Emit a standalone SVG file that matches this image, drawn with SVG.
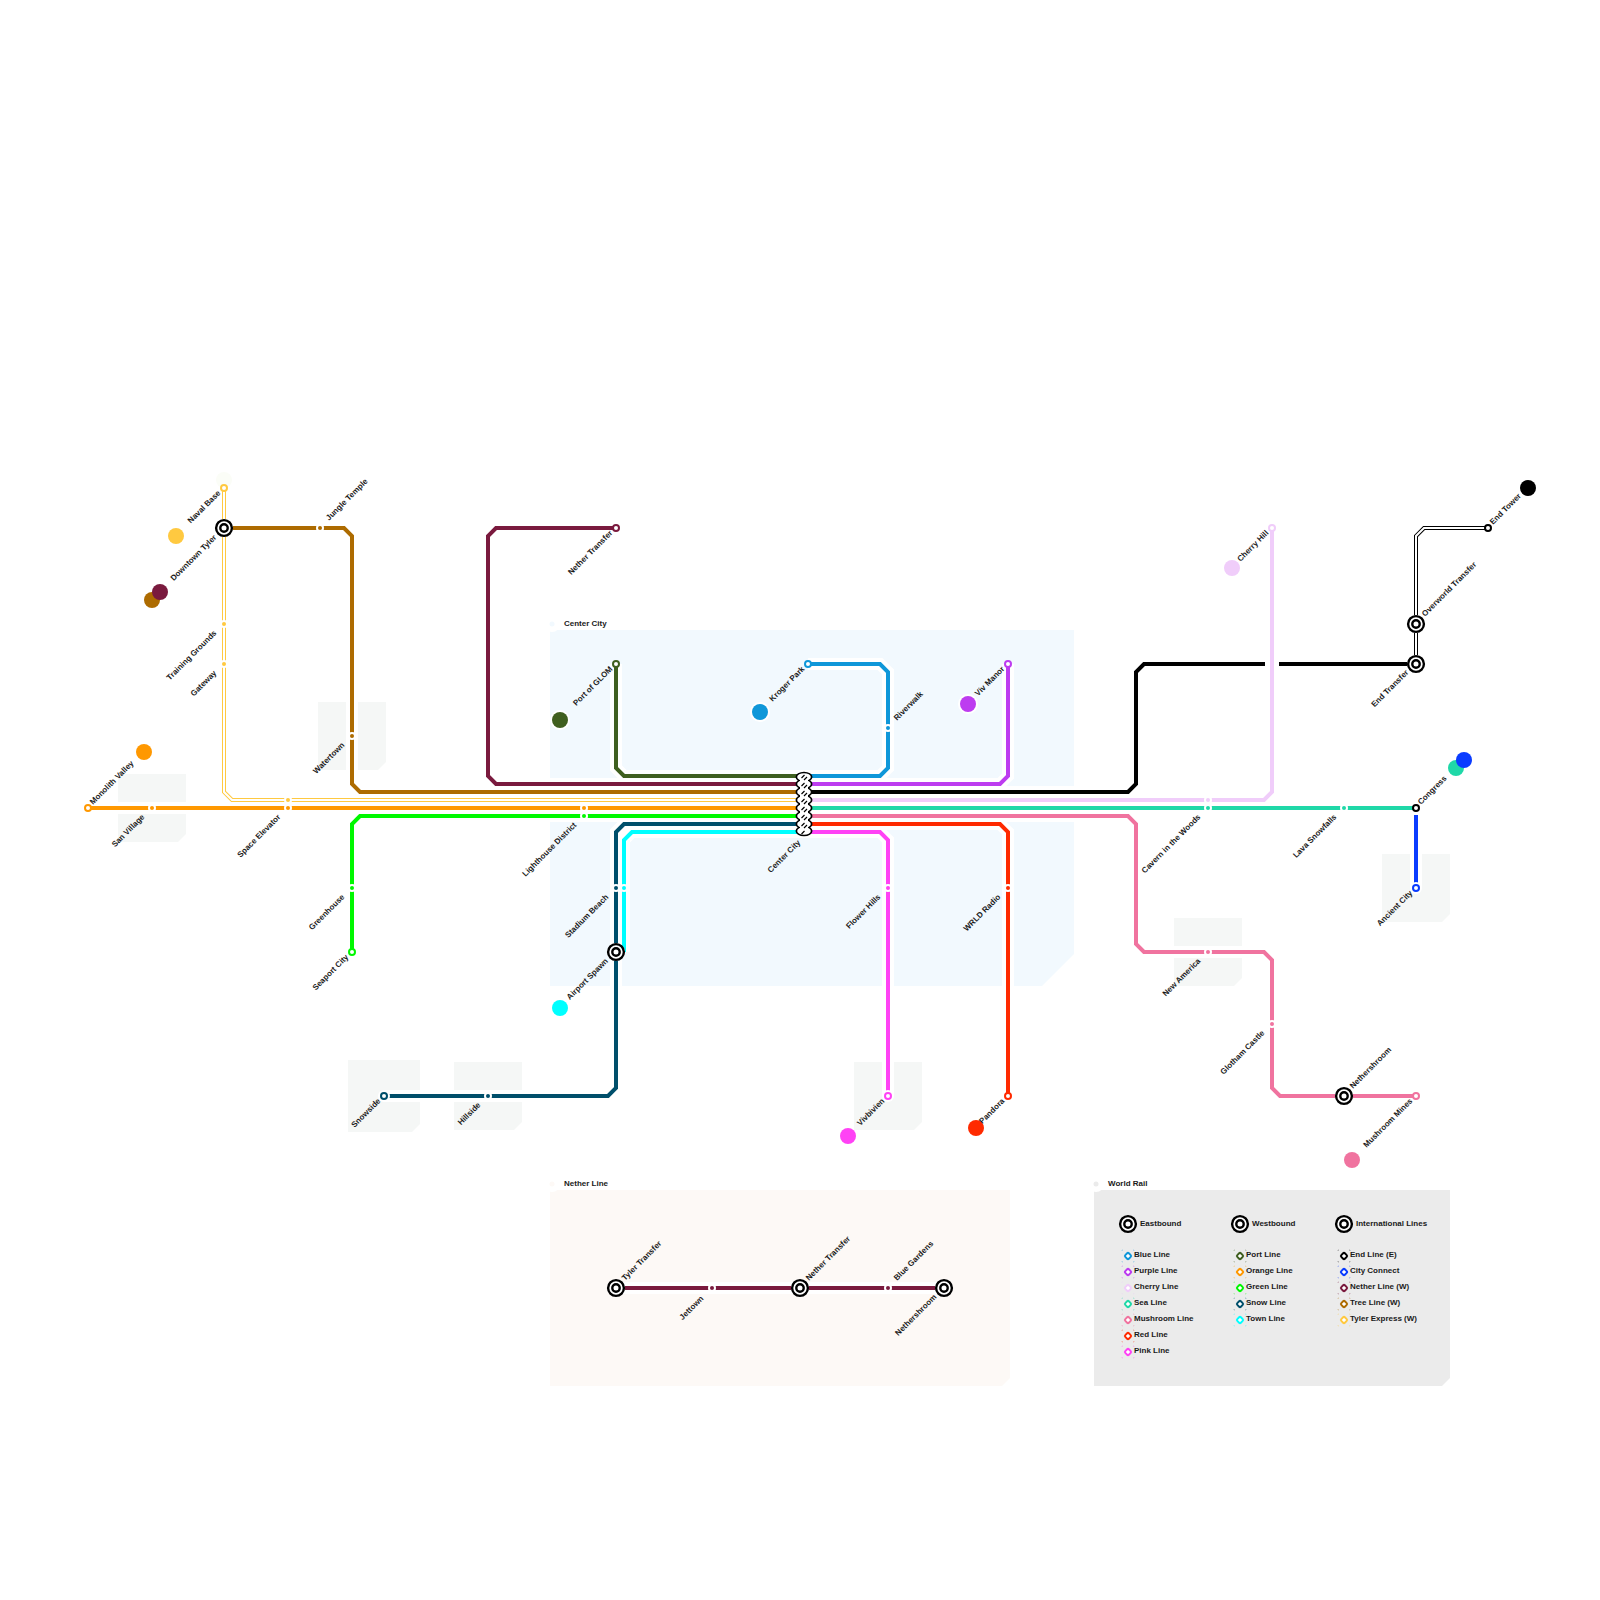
<svg xmlns="http://www.w3.org/2000/svg" xmlns:xlink="http://www.w3.org/1999/xlink" width="1600" height="1600" viewBox="0 0 1600 1600">
<defs>
<style>
text{font-family:"Liberation Sans",Arial,sans-serif;font-size:8px;font-weight:bold;fill:#1a1a1a}
.e{text-anchor:end}
path{fill:none}
.ln path{stroke-width:4;stroke-linejoin:miter}
.case path{stroke:#fff;stroke-width:12}
.inner{stroke:#fff!important;stroke-width:2!important}
.s{fill:#fff}
.ring{fill:#fff;stroke-width:2}
.io{fill:#fff;stroke:#000;stroke-width:2.4}
.ih{fill:#fff}
.d{fill:#fff;stroke-width:2}
.dots{fill:none;stroke-width:.7;stroke-dasharray:1.4 10.6;stroke-dashoffset:.7;opacity:.55}
</style>
<g id="ix"><circle r="9" class="ih"/><circle r="7.9" class="io"/><circle r="3.7" class="io"/></g>
</defs>
<rect width="1600" height="1600" fill="#fff"/>

<g id="panels">
<path d="M550 630H1074V954L1042 986H550Z" style="fill:#f2f9fe"/>
<path d="M550 1190H1010V1378L1002 1386H550Z" style="fill:#fdf9f6"/>
<path d="M1094 1190H1450V1378L1442 1386H1094Z" style="fill:#ebebeb"/>
<circle cx="552" cy="624" r="8" fill="#fff"/><circle cx="552" cy="624" r="2.5" fill="#f2f9fe"/>
<circle cx="552" cy="1184" r="8" fill="#fff"/><circle cx="552" cy="1184" r="2.5" fill="#fdf9f6"/>
<circle cx="1096" cy="1184" r="8" fill="#fff"/><circle cx="1096" cy="1184" r="2.5" fill="#ebebeb"/>
<text x="564" y="626">Center City</text>
<text x="564" y="1186">Nether Line</text>
<text x="1108" y="1186">World Rail</text>
</g>
<g id="tiles">
<path style="fill:#f5f7f6" d="M118 774H186V834L178 842H118Z"/>
<path style="fill:#f5f7f6" d="M318 702H386V762L378 770H318Z"/>
<path style="fill:#f5f7f6" d="M1382 854H1450V914L1442 922H1382Z"/>
<path style="fill:#f5f7f6" d="M1174 918H1242V978L1234 986H1174Z"/>
<path style="fill:#f5f7f6" d="M348 1060H420V1124L412 1132H348Z"/>
<path style="fill:#f5f7f6" d="M454 1062H522V1122L514 1130H454Z"/>
<path style="fill:#f5f7f6" d="M854 1062H922V1122L914 1130H854Z"/>
</g>

<g id="connectors">
<g class="case">
<path d="M224 488V792L232 800H804"/>
<path d="M224 528H344L352 536V784L360 792H804"/>
<path d="M88 808H804"/>
<path d="M352 952V824L360 816H804"/>
<path d="M616 528H496L488 536V776L496 784H804"/>
<path d="M616 664V768L624 776H804"/>
<path d="M384 1096H608L616 1088V832L624 824H804"/>
<path d="M624 952V840L632 832H804"/>
<path d="M808 664H880L888 672V768L880 776H804"/>
<path d="M1008 664V776L1000 784H804"/>
<path d="M804 792H1128L1136 784V672L1144 664H1416"/>
<path d="M1416 664V536L1424 528H1488"/>
<path d="M804 808H1416"/>
<path d="M1416 808V888"/>
<path d="M804 816H1128L1136 824V944L1144 952H1264L1272 960V1088L1280 1096H1416"/>
<path d="M804 824H1000L1008 832V1096"/>
<path d="M804 832H880L888 840V1096"/>
<path d="M616 1288H944"/>
</g>
<g class="ln">
<path stroke="#3f5f1f" d="M616 664V768L624 776H804"/>
<path stroke="#7a1a3e" d="M616 528H496L488 536V776L496 784H804"/>
<path stroke="#ad6b00" d="M224 528H344L352 536V784L360 792H804"/>
<path stroke="#ffc940" d="M224 488V792L232 800H804"/>
<path class="inner" d="M224 488V792L232 800H804"/>
<path stroke="#ff9800" d="M88 808H804"/>
<path stroke="#00f800" d="M352 952V824L360 816H804"/>
<path stroke="#004f6b" d="M384 1096H608L616 1088V832L624 824H804"/>
<path stroke="#00ffff" d="M624 952V840L632 832H804"/>
<path stroke="#0f97d9" d="M808 664H880L888 672V768L880 776H804"/>
<path stroke="#bd3cf0" d="M1008 664V776L1000 784H804"/>
<path stroke="#000" d="M804 792H1128L1136 784V672L1144 664H1416"/>
<path stroke="#000" d="M1416 664V536L1424 528H1488"/>
<path class="inner" d="M1416 664V536L1424 528H1488"/>
<path stroke="#fff" style="stroke-width:14" d="M1272 650V678"/>
<path stroke="#f0cdfa" d="M1272 528V792L1264 800H804"/>
<path stroke="#1fd8a8" d="M804 808H1416"/>
<path stroke="#0a3cff" d="M1416 815V888"/>
<path stroke="#f0739f" d="M804 816H1128L1136 824V944L1144 952H1264L1272 960V1088L1280 1096H1416"/>
<path stroke="#ff2a00" d="M804 824H1000L1008 832V1096"/>
<path stroke="#ff42f5" d="M804 832H880L888 840V1096"/>
<path stroke="#7a1a3e" d="M616 1288H944"/>
</g>
</g>

<g id="line-markers">
<g fill="#fff">
<circle cx="176" cy="536" r="10"/><circle cx="160" cy="592" r="10"/><circle cx="152" cy="600" r="10"/><circle cx="144" cy="752" r="10"/><circle cx="560" cy="720" r="10"/><circle cx="760" cy="712" r="10"/><circle cx="968" cy="704" r="10"/><circle cx="560" cy="1008" r="10"/><circle cx="1232" cy="568" r="10"/>
</g>
<circle cx="224" cy="480" r="8" fill="#fbfdf7"/>
<circle cx="176" cy="536" r="8" fill="#ffc940"/>
<circle cx="152" cy="600" r="8" fill="#ad6b00"/>
<circle cx="160" cy="592" r="8" fill="#7a1a3e"/>
<circle cx="144" cy="752" r="8" fill="#ff9800"/>
<circle cx="560" cy="720" r="8" fill="#3f5f1f"/>
<circle cx="760" cy="712" r="8" fill="#0f97d9"/>
<circle cx="968" cy="704" r="8" fill="#bd3cf0"/>
<circle cx="560" cy="1008" r="8" fill="#00ffff"/>
<circle cx="848" cy="1136" r="8" fill="#ff42f5"/>
<circle cx="976" cy="1128" r="8" fill="#ff2a00"/>
<circle cx="1352" cy="1160" r="8" fill="#f0739f"/>
<circle cx="1232" cy="568" r="8" fill="#f0cdfa"/>
<circle cx="1456" cy="768" r="8" fill="#1fd8a8"/>
<circle cx="1464" cy="760" r="8" fill="#0a3cff"/>
<circle cx="1528" cy="488" r="8" fill="#000"/>
</g>

<g id="stop-Naval-Base"><circle cx="224" cy="488" r="3" class="ring" stroke="#ffc940"/><text class="e" transform="translate(221 493.5) rotate(-45)">Naval Base</text></g>
<g id="stop-Downtown-Tyler"><use xlink:href="#ix" href="#ix" x="224" y="528"/><text class="e" transform="translate(217 538) rotate(-45)">Downtown Tyler</text></g>
<g id="stop-Training-Grounds"><circle cx="224" cy="624" r="4" class="s"/><circle cx="224" cy="624" r="2" fill="#ffc940"/><text class="e" transform="translate(217 633.5) rotate(-45)">Training Grounds</text></g>
<g id="stop-Gateway"><circle cx="224" cy="664" r="4" class="s"/><circle cx="224" cy="664" r="2" fill="#ffc940"/><text class="e" transform="translate(217 673.5) rotate(-45)">Gateway</text></g>
<g id="stop-Jungle-Temple"><circle cx="320" cy="528" r="4" class="s"/><circle cx="320" cy="528" r="2" fill="#ad6b00"/><text transform="translate(329 521) rotate(-45)">Jungle Temple</text></g>
<g id="stop-Watertown"><circle cx="352" cy="736" r="4" class="s"/><circle cx="352" cy="736" r="2" fill="#ad6b00"/><text class="e" transform="translate(345 745.5) rotate(-45)">Watertown</text></g>
<g id="stop-Monolith-Valley"><circle cx="88" cy="808" r="3" class="ring" stroke="#ff9800"/><text transform="translate(93 805) rotate(-45)">Monolith Valley</text></g>
<g id="stop-San-Village"><circle cx="152" cy="808" r="4" class="s"/><circle cx="152" cy="808" r="2" fill="#ff9800"/><text class="e" transform="translate(145 817.5) rotate(-45)">San Village</text></g>
<g id="stop-Space-Elevator"><circle cx="288" cy="800" r="4" class="s"/><circle cx="288" cy="800" r="2" fill="#ffc940"/><circle cx="288" cy="808" r="4" class="s"/><circle cx="288" cy="808" r="2" fill="#ff9800"/><text class="e" transform="translate(281 817.5) rotate(-45)">Space Elevator</text></g>
<g id="stop-Greenhouse"><circle cx="352" cy="888" r="4" class="s"/><circle cx="352" cy="888" r="2" fill="#00f800"/><text class="e" transform="translate(345 897.5) rotate(-45)">Greenhouse</text></g>
<g id="stop-Seaport-City"><circle cx="352" cy="952" r="3" class="ring" stroke="#00f800"/><text class="e" transform="translate(349 957.5) rotate(-45)">Seaport City</text></g>
<g id="stop-Lighthouse-District"><circle cx="584" cy="808" r="4" class="s"/><circle cx="584" cy="808" r="2" fill="#ff9800"/><circle cx="584" cy="816" r="4" class="s"/><circle cx="584" cy="816" r="2" fill="#00f800"/><text class="e" transform="translate(577 825.5) rotate(-45)">Lighthouse District</text></g>
<g id="stop-Stadium-Beach"><circle cx="616" cy="888" r="4" class="s"/><circle cx="616" cy="888" r="2" fill="#004f6b"/><circle cx="624" cy="888" r="4" class="s"/><circle cx="624" cy="888" r="2" fill="#00ffff"/><text class="e" transform="translate(609 897.5) rotate(-45)">Stadium Beach</text></g>
<g id="stop-Airport-Spawn"><use xlink:href="#ix" href="#ix" x="616" y="952"/><text class="e" transform="translate(608.5 961.5) rotate(-45)">Airport Spawn</text></g>
<g id="stop-Nether-Transfer"><circle cx="616" cy="528" r="3" class="ring" stroke="#7a1a3e"/><text class="e" transform="translate(613 533.5) rotate(-45)">Nether Transfer</text></g>
<g id="stop-Port-of-GLOM"><circle cx="616" cy="664" r="3" class="ring" stroke="#3f5f1f"/><text class="e" transform="translate(613 669.5) rotate(-45)">Port of GLOM</text></g>
<g id="stop-Kroger-Park"><circle cx="808" cy="664" r="3" class="ring" stroke="#0f97d9"/><text class="e" transform="translate(805 669.5) rotate(-45)">Kroger Park</text></g>
<g id="stop-Riverwalk"><circle cx="888" cy="728" r="4" class="s"/><circle cx="888" cy="728" r="2" fill="#0f97d9"/><text transform="translate(897 721) rotate(-45)">Riverwalk</text></g>
<g id="stop-Viv-Manor"><circle cx="1008" cy="664" r="3" class="ring" stroke="#bd3cf0"/><text class="e" transform="translate(1005 669.5) rotate(-45)">Viv Manor</text></g>
<g id="stop-Center-City">
<g fill="#000"><ellipse cx="804" cy="777" rx="8.5" ry="5.2"/><ellipse cx="804" cy="784" rx="8.5" ry="5.2"/><ellipse cx="804" cy="792" rx="8.5" ry="5.2"/><ellipse cx="804" cy="800" rx="8.5" ry="5.2"/><ellipse cx="804" cy="808" rx="8.5" ry="5.2"/><ellipse cx="804" cy="816" rx="8.5" ry="5.2"/><ellipse cx="804" cy="824" rx="8.5" ry="5.2"/><ellipse cx="804" cy="831" rx="8.5" ry="5.2"/></g>
<g fill="#fff"><rect x="800" y="776" width="8" height="56"/><ellipse cx="804" cy="777" rx="6.8" ry="3.8"/><ellipse cx="804" cy="784" rx="6.8" ry="3.8"/><ellipse cx="804" cy="792" rx="6.8" ry="3.8"/><ellipse cx="804" cy="800" rx="6.8" ry="3.8"/><ellipse cx="804" cy="808" rx="6.8" ry="3.8"/><ellipse cx="804" cy="816" rx="6.8" ry="3.8"/><ellipse cx="804" cy="824" rx="6.8" ry="3.8"/><ellipse cx="804" cy="831" rx="6.8" ry="3.8"/></g>
<path stroke="#000" stroke-width="1.2" d="M801.5 778L804.5 775M804 780L807 777M801.5 786L804.5 783M804 788L807 785M801.5 794L804.5 791M804 796L807 793M801.5 802L804.5 799M804 804L807 801M801.5 810L804.5 807M804 812L807 809M801.5 818L804.5 815M804 820L807 817M801.5 826L804.5 823M804 828L807 825M801.5 834L804.5 831"/>
<text class="e" transform="translate(801 843) rotate(-45)">Center City</text></g>
<g id="stop-Flower-Hills"><circle cx="888" cy="888" r="4" class="s"/><circle cx="888" cy="888" r="2" fill="#ff42f5"/><text class="e" transform="translate(881 897.5) rotate(-45)">Flower Hills</text></g>
<g id="stop-WRLD-Radio"><circle cx="1008" cy="888" r="4" class="s"/><circle cx="1008" cy="888" r="2" fill="#ff2a00"/><text class="e" transform="translate(1001 897.5) rotate(-45)">WRLD Radio</text></g>
<g id="stop-Vivbivien"><circle cx="888" cy="1096" r="6" fill="#fff"/><circle cx="888" cy="1096" r="3" class="ring" stroke="#ff42f5"/><text class="e" transform="translate(885 1101.5) rotate(-45)">Vivbivien</text></g>
<g id="stop-Pandora"><circle cx="1008" cy="1096" r="3" class="ring" stroke="#ff2a00"/><text class="e" transform="translate(1005 1101.5) rotate(-45)">Pandora</text></g>
<g id="stop-Snowside"><circle cx="384" cy="1096" r="6" fill="#fff"/><circle cx="384" cy="1096" r="3" class="ring" stroke="#004f6b"/><text class="e" transform="translate(381 1101.5) rotate(-45)">Snowside</text></g>
<g id="stop-Hillside"><circle cx="488" cy="1096" r="4" class="s"/><circle cx="488" cy="1096" r="2" fill="#004f6b"/><text class="e" transform="translate(481 1105.5) rotate(-45)">Hillside</text></g>
<g id="stop-Cavern"><circle cx="1208" cy="800" r="4" class="s"/><circle cx="1208" cy="800" r="2" fill="#f0cdfa"/><circle cx="1208" cy="808" r="4" class="s"/><circle cx="1208" cy="808" r="2" fill="#1fd8a8"/><text class="e" transform="translate(1201 817.5) rotate(-45)">Cavern in the Woods</text></g>
<g id="stop-Lava-Snowfalls"><circle cx="1344" cy="808" r="4" class="s"/><circle cx="1344" cy="808" r="2" fill="#1fd8a8"/><text class="e" transform="translate(1337 817.5) rotate(-45)">Lava Snowfalls</text></g>
<g id="stop-Congress"><circle cx="1416" cy="808" r="3" class="ring" stroke="#000"/><text transform="translate(1421 805) rotate(-45)">Congress</text></g>
<g id="stop-Ancient-City"><circle cx="1416" cy="888" r="6" fill="#fff"/><circle cx="1416" cy="888" r="3" class="ring" stroke="#0a3cff"/><text class="e" transform="translate(1413 893.5) rotate(-45)">Ancient City</text></g>
<g id="stop-New-America"><circle cx="1208" cy="952" r="4" class="s"/><circle cx="1208" cy="952" r="2" fill="#f0739f"/><text class="e" transform="translate(1201 961.5) rotate(-45)">New America</text></g>
<g id="stop-Glotham-Castle"><circle cx="1272" cy="1024" r="4" class="s"/><circle cx="1272" cy="1024" r="2" fill="#f0739f"/><text class="e" transform="translate(1265 1033.5) rotate(-45)">Glotham Castle</text></g>
<g id="stop-Nethershroom"><use xlink:href="#ix" href="#ix" x="1344" y="1096"/><text transform="translate(1353 1089) rotate(-45)">Nethershroom</text></g>
<g id="stop-Mushroom-Mines"><circle cx="1416" cy="1096" r="3" class="ring" stroke="#f0739f"/><text class="e" transform="translate(1413 1101.5) rotate(-45)">Mushroom Mines</text></g>
<g id="stop-Cherry-Hill"><circle cx="1272" cy="528" r="3" class="ring" stroke="#f0cdfa"/><text class="e" transform="translate(1269 533.5) rotate(-45)">Cherry Hill</text></g>
<g id="stop-End-Transfer"><use xlink:href="#ix" href="#ix" x="1416" y="664"/><text class="e" transform="translate(1409 673) rotate(-45)">End Transfer</text></g>
<g id="stop-Overworld-Transfer"><use xlink:href="#ix" href="#ix" x="1416" y="624"/><text transform="translate(1425 617) rotate(-45)">Overworld Transfer</text></g>
<g id="stop-End-Tower"><circle cx="1488" cy="528" r="3" class="ring" stroke="#000"/><text transform="translate(1493 525) rotate(-45)">End Tower</text></g>

<g id="stop-Tyler-Transfer"><use xlink:href="#ix" href="#ix" x="616" y="1288"/><text transform="translate(625 1281) rotate(-45)">Tyler Transfer</text></g>
<g id="stop-Jettown"><circle cx="712" cy="1288" r="4" class="s"/><circle cx="712" cy="1288" r="2" fill="#7a1a3e"/><text class="e" transform="translate(704 1299) rotate(-45)">Jettown</text></g>
<g id="stop-Nether-Transfer-2"><use xlink:href="#ix" href="#ix" x="800" y="1288"/><text transform="translate(809 1281) rotate(-45)">Nether Transfer</text></g>
<g id="stop-Blue-Gardens"><circle cx="888" cy="1288" r="4" class="s"/><circle cx="888" cy="1288" r="2" fill="#7a1a3e"/><text transform="translate(897 1281) rotate(-45)">Blue Gardens</text></g>
<g id="stop-Nethershroom-2"><use xlink:href="#ix" href="#ix" x="944" y="1288"/><text class="e" transform="translate(937 1297.5) rotate(-45)">Nethershroom</text></g>

<g id="legend">
<g id="leg-heads">
<use xlink:href="#ix" href="#ix" x="1128" y="1224"/><text x="1140" y="1226">Eastbound</text>
<use xlink:href="#ix" href="#ix" x="1240" y="1224"/><text x="1252" y="1226">Westbound</text>
<use xlink:href="#ix" href="#ix" x="1344" y="1224"/><text x="1356" y="1226">International Lines</text>
</g>
<g id="leg-east">
<g stroke="#0f97d9"><rect class="dots" x="1122" y="1250" width="12" height="12"/><rect class="d" x="1125.5" y="1253.5" width="5" height="5" rx="1.2" transform="rotate(45 1128 1256)"/></g><text x="1134" y="1257.3">Blue Line</text>
<g stroke="#bd3cf0"><rect class="dots" x="1122" y="1266" width="12" height="12"/><rect class="d" x="1125.5" y="1269.5" width="5" height="5" rx="1.2" transform="rotate(45 1128 1272)"/></g><text x="1134" y="1273.3">Purple Line</text>
<g stroke="#f0cdfa"><rect class="dots" x="1122" y="1282" width="12" height="12"/><rect class="d" x="1125.5" y="1285.5" width="5" height="5" rx="1.2" transform="rotate(45 1128 1288)"/></g><text x="1134" y="1289.3">Cherry Line</text>
<g stroke="#1fd8a8"><rect class="dots" x="1122" y="1298" width="12" height="12"/><rect class="d" x="1125.5" y="1301.5" width="5" height="5" rx="1.2" transform="rotate(45 1128 1304)"/></g><text x="1134" y="1305.3">Sea Line</text>
<g stroke="#f0739f"><rect class="dots" x="1122" y="1314" width="12" height="12"/><rect class="d" x="1125.5" y="1317.5" width="5" height="5" rx="1.2" transform="rotate(45 1128 1320)"/></g><text x="1134" y="1321.3">Mushroom Line</text>
<g stroke="#ff2a00"><rect class="dots" x="1122" y="1330" width="12" height="12"/><rect class="d" x="1125.5" y="1333.5" width="5" height="5" rx="1.2" transform="rotate(45 1128 1336)"/></g><text x="1134" y="1337.3">Red Line</text>
<g stroke="#ff42f5"><rect class="dots" x="1122" y="1346" width="12" height="12"/><rect class="d" x="1125.5" y="1349.5" width="5" height="5" rx="1.2" transform="rotate(45 1128 1352)"/></g><text x="1134" y="1353.3">Pink Line</text>
</g>
<g id="leg-west">
<g stroke="#3f5f1f"><rect class="dots" x="1234" y="1250" width="12" height="12"/><rect class="d" x="1237.5" y="1253.5" width="5" height="5" rx="1.2" transform="rotate(45 1240 1256)"/></g><text x="1246" y="1257.3">Port Line</text>
<g stroke="#ff9800"><rect class="dots" x="1234" y="1266" width="12" height="12"/><rect class="d" x="1237.5" y="1269.5" width="5" height="5" rx="1.2" transform="rotate(45 1240 1272)"/></g><text x="1246" y="1273.3">Orange Line</text>
<g stroke="#00f800"><rect class="dots" x="1234" y="1282" width="12" height="12"/><rect class="d" x="1237.5" y="1285.5" width="5" height="5" rx="1.2" transform="rotate(45 1240 1288)"/></g><text x="1246" y="1289.3">Green Line</text>
<g stroke="#004f6b"><rect class="dots" x="1234" y="1298" width="12" height="12"/><rect class="d" x="1237.5" y="1301.5" width="5" height="5" rx="1.2" transform="rotate(45 1240 1304)"/></g><text x="1246" y="1305.3">Snow Line</text>
<g stroke="#00ffff"><rect class="dots" x="1234" y="1314" width="12" height="12"/><rect class="d" x="1237.5" y="1317.5" width="5" height="5" rx="1.2" transform="rotate(45 1240 1320)"/></g><text x="1246" y="1321.3">Town Line</text>
</g>
<g id="leg-intl">
<g stroke="#000"><rect class="dots" x="1338" y="1250" width="12" height="12"/><rect class="d" x="1341.5" y="1253.5" width="5" height="5" rx="1.2" transform="rotate(45 1344 1256)"/></g><text x="1350" y="1257.3">End Line (E)</text>
<g stroke="#0a3cff"><rect class="dots" x="1338" y="1266" width="12" height="12"/><rect class="d" x="1341.5" y="1269.5" width="5" height="5" rx="1.2" transform="rotate(45 1344 1272)"/></g><text x="1350" y="1273.3">City Connect</text>
<g stroke="#7a1a3e"><rect class="dots" x="1338" y="1282" width="12" height="12"/><rect class="d" x="1341.5" y="1285.5" width="5" height="5" rx="1.2" transform="rotate(45 1344 1288)"/></g><text x="1350" y="1289.3">Nether Line (W)</text>
<g stroke="#ad6b00"><rect class="dots" x="1338" y="1298" width="12" height="12"/><rect class="d" x="1341.5" y="1301.5" width="5" height="5" rx="1.2" transform="rotate(45 1344 1304)"/></g><text x="1350" y="1305.3">Tree Line (W)</text>
<g stroke="#ffc940"><rect class="dots" x="1338" y="1314" width="12" height="12"/><rect class="d" x="1341.5" y="1317.5" width="5" height="5" rx="1.2" transform="rotate(45 1344 1320)"/></g><text x="1350" y="1321.3">Tyler Express (W)</text>
</g>
</g>
</svg>
